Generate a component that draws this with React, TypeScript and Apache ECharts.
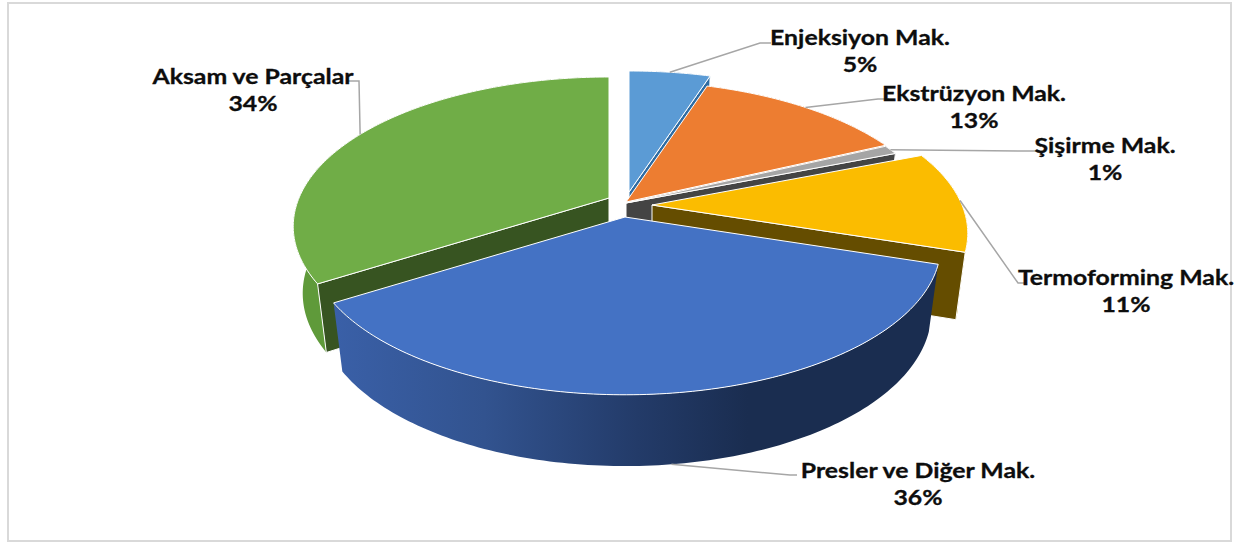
import React, { useEffect, useRef } from "react";
import * as echarts from "echarts";

// ---- data ----
const categories = ["Enjeksiyon Mak.", "Ekstrüzyon Mak.", "Şişirme Mak.", "Termoforming Mak.", "Presler ve Diğer Mak.", "Aksam ve Parçalar"];
const shares = [5, 13, 1, 11, 36, 34];
const paintOrder = [0, 1, 2, 5, 3, 4];

// ---- style and layout ----
const topColors = ["#5B9BD5", "#ED7D31", "#A5A5A5", "#FBBC00", "#4472C4", "#70AD47"];
const wallColors = ["#2F6CA3", "#9A4F1C", "#444444", "#654D00", "#1A2D50", "#375421"];
const rimColors: any[] = [
  "#4A85BC", "#C4651F", "#444444", "#B88C00",
  {
    type: "linear", x: 331, y: 0, x2: 944, y2: 0, global: true,
    colorStops: [
      { offset: 0, color: "#3A60A8" },
      { offset: 0.25, color: "#32538F" },
      { offset: 0.5, color: "#233B69" },
      { offset: 0.68, color: "#1A2D50" },
      { offset: 1, color: "#1A2D50" },
    ],
  },
  "#5F9A3A",
];
const apexX = [629, 626, 626, 652, 625, 609];
const apexY = [192, 202, 203, 205, 217, 198];
const labelX = [860, 974, 1105, 1126, 918, 253];
const labelY = [37, 93, 145, 277, 470, 76];
const elbows: number[][][] = [
  [[760, 43], [771, 43]],
  [[878, 99], [889, 99]],
  [[1030, 151], [1040, 151]],
  [[1018, 283], [1025, 283]],
  [[790, 475], [797, 475]],
  [[359, 81], [347, 81]],
];
const RX = 310, RY = 144, PERSP = 0.19, SHRINK_X = 0.97, STRETCH_Y = 1.03, DEPTH = 66;
const FONT = 'bold 20.5px Lato, "Noto Sans", sans-serif';
const TEXT_STRETCH = 1.21;

function rim(i: number, deg: number, lower: boolean): number[] {
  const t = (deg * Math.PI) / 180;
  const u = Math.sin(t), v = Math.cos(t), w = 1 + PERSP * v;
  const x = (RX * u) / w, y = (-RY * v) / w;
  return lower
    ? [apexX[i] + x * SHRINK_X, apexY[i] + y * STRETCH_Y + DEPTH]
    : [apexX[i] + x, apexY[i] + y];
}

function arc(i: number, a: number, b: number, lower: boolean): number[][] {
  const n = Math.max(4, Math.ceil(Math.abs(b - a)));
  const pts: number[][] = [];
  for (let k = 0; k <= n; k++) pts.push(rim(i, a + ((b - a) * k) / n, lower));
  return pts;
}

function bounds(i: number): [number, number] {
  const total = shares.reduce((s, v) => s + v, 0);
  let acc = 0;
  for (let k = 0; k < i; k++) acc += shares[k];
  return [(acc / total) * 360, ((acc + shares[i]) / total) * 360];
}

function label(text: string, x: number, y: number) {
  return {
    type: "text",
    x,
    y,
    scaleX: TEXT_STRETCH,
    style: { text, x: 0, y: 0, fill: "#0D0D0D", stroke: "#0D0D0D", lineWidth: 0.3, font: FONT, align: "center", verticalAlign: "middle" },
  };
}

function renderSlice(params: any, api: any) {
  const i = api.value(1) as number;
  const [a, b] = bounds(i);
  const apex = [apexX[i], apexY[i]];
  const apexLow = [apexX[i], apexY[i] + DEPTH];
  const edge = { stroke: "#FFFFFF", lineWidth: 1, lineJoin: "round" };
  const wall = (deg: number) => ({
    type: "polygon",
    shape: { points: [apex, rim(i, deg, false), rim(i, deg, true), apexLow] },
    style: { fill: wallColors[i], ...edge },
  });
  // a cut face shows only when it faces the viewer
  const sinA = Math.sin((a * Math.PI) / 180);
  const sinB = Math.sin((b * Math.PI) / 180);
  const walls: any[] = [];
  if (sinA < -1e-6) walls.push(wall(a));
  if (sinB > 1e-6) walls.push(wall(b));
  const mid = (a + b) / 2;
  const anchor = rim(i, mid, mid > 150 && mid < 210);
  return {
    type: "group",
    children: [
      {
        type: "polygon",
        shape: { points: [...arc(i, a, b, false), ...arc(i, b, a, true)] },
        style: { fill: rimColors[i], stroke: "none" },
      },
      ...walls,
      {
        type: "polygon",
        shape: { points: [apex, ...arc(i, a, b, false)] },
        style: { fill: topColors[i], ...edge },
      },
      {
        type: "polyline",
        shape: { points: [anchor, ...elbows[i]] },
        style: { fill: "none", stroke: "#A6A6A6", lineWidth: 1.5 },
      },
      label(categories[i], labelX[i], labelY[i]),
      label(`${api.value(0)}%`, labelX[i], labelY[i] + 27),
    ],
  };
}

export default function App() {
  const ref = useRef<HTMLDivElement>(null);
  useEffect(() => {
    const chart = echarts.init(ref.current!, undefined, { renderer: "svg" });
    chart.setOption({
      animation: false,
      backgroundColor: "#FFFFFF",
      graphic: [
        {
          type: "rect",
          shape: { x: 8, y: 3, width: 1223, height: 538 },
          style: { fill: "none", stroke: "#D9D9D9", lineWidth: 2 },
          z: -1,
        },
      ],
      series: [
        {
          type: "custom",
          coordinateSystem: "none",
          silent: true,
          clip: false,
          renderItem: renderSlice,
          data: paintOrder.map((i) => [shares[i], i]),
        },
      ],
    });
    return () => chart.dispose();
  }, []);
  return <div ref={ref} style={{ position: "absolute", left: 0, top: 0, width: 1239, height: 543 }} />;
}
